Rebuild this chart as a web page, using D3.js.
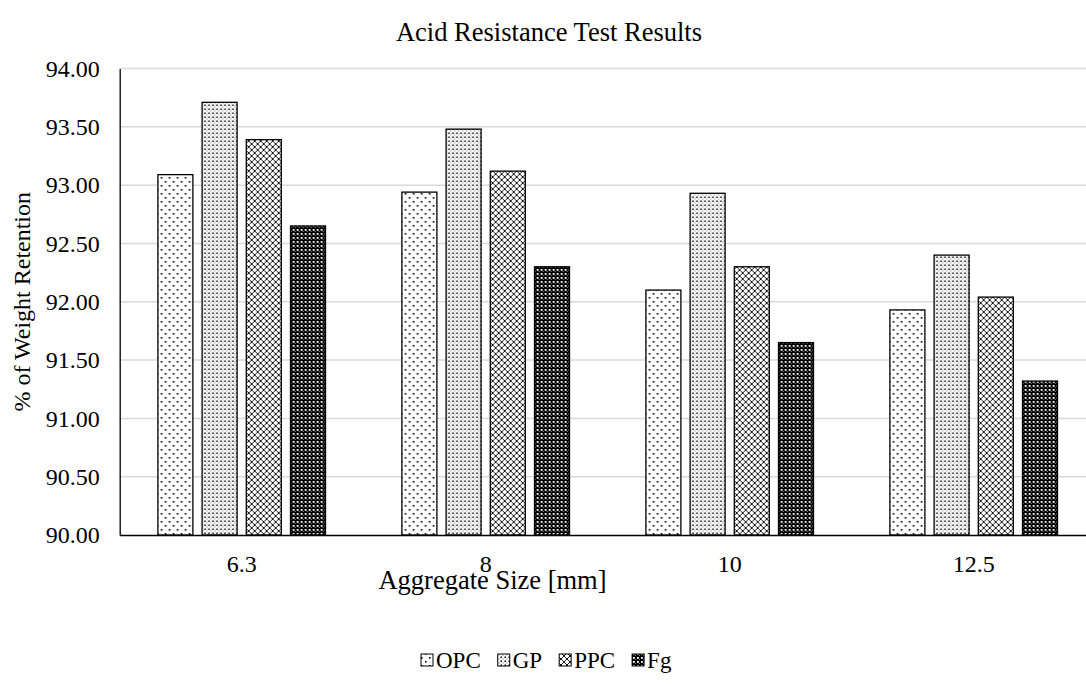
<!DOCTYPE html>
<html>
<head>
<meta charset="utf-8">
<script src="https://cdn.jsdelivr.net/npm/d3@7"></script>
<style>
  html, body { margin: 0; padding: 0; background: #fff; }
  svg, svg text { font-family: "Liberation Serif", "Times New Roman", serif !important; }
  svg { display: block; }
</style>
</head>
<body>
<svg id="chart" width="1086" height="684"></svg>
<script>
// Aggregate sizes (mm) on the x axis
const categories = ["6.3", "8", "10", "12.5"];
// Binder types
const seriesNames = ["OPC", "GP", "PPC", "Fg"];
// % of weight retained after acid exposure, per binder
const opcValues = [93.09, 92.94, 92.10, 91.93];
const gpValues  = [93.71, 93.48, 92.93, 92.40];
const ppcValues = [93.39, 93.12, 92.30, 92.04];
const fgValues  = [92.65, 92.30, 91.65, 91.32];
// y axis ticks
const yTicks = [90.00, 90.50, 91.00, 91.50, 92.00, 92.50, 93.00, 93.50, 94.00];

const valuesBySeries = [opcValues, gpValues, ppcValues, fgValues];
const rows = categories.map((c, i) => ({
  cat: c,
  vals: seriesNames.map((s, j) => ({ series: s, value: valuesBySeries[j][i] }))
}));

const svg = d3.select("#chart");
const defs = svg.append("defs");

// Fill patterns, one per binder
function pat(id, w, h, build) {
  const p = defs.append("pattern").attr("id", id)
    .attr("patternUnits", "userSpaceOnUse").attr("width", w).attr("height", h);
  build(p);
}
// sparse staggered dots
pat("p-OPC", 8, 8, p => {
  p.append("rect").attr("width", 8).attr("height", 8).attr("fill", "#fff");
  p.append("rect").attr("x", 1).attr("y", 1).attr("width", 1.6).attr("height", 1.6).attr("fill", "#000");
  p.append("rect").attr("x", 5).attr("y", 5).attr("width", 1.6).attr("height", 1.6).attr("fill", "#000");
});
// dense dots
pat("p-GP", 4, 4, p => {
  p.append("rect").attr("width", 4).attr("height", 4).attr("fill", "#fff");
  p.append("rect").attr("x", 0.5).attr("y", 0.5).attr("width", 1.5).attr("height", 1.5).attr("fill", "#000");
  p.append("rect").attr("x", 2.5).attr("y", 2.5).attr("width", 1).attr("height", 1).attr("fill", "#666");
});
// diagonal cross lattice
pat("p-PPC", 6, 6, p => {
  p.append("rect").attr("width", 6).attr("height", 6).attr("fill", "#fff");
  p.append("path").attr("d", "M0,0L6,6M6,0L0,6").attr("stroke", "#000").attr("stroke-width", 0.9);
  p.append("rect").attr("x", 2.5).attr("y", 2.5).attr("width", 1).attr("height", 1).attr("fill", "#000");
});
// dark with light dots
pat("p-Fg", 4, 4, p => {
  p.append("rect").attr("width", 4).attr("height", 4).attr("fill", "#000");
  p.append("rect").attr("x", 1).attr("y", 1).attr("width", 1.8).attr("height", 1.8).attr("fill", "#fff");
  p.append("rect").attr("x", 3).attr("y", 3).attr("width", 1).attr("height", 1).attr("fill", "#888");
});

const plot = { left: 119.7, right: 1095.7, top: 68.5, bottom: 535 };

const x0 = d3.scaleBand().domain(categories).range([plot.left, plot.right]);
const x1 = d3.scaleBand().domain(seriesNames).range([0, x0.bandwidth()])
  .paddingInner(0.208).paddingOuter(0.864);
const y = d3.scaleLinear().domain([90, 94]).range([plot.bottom, plot.top]);

// gridlines
svg.append("g").selectAll("line").data(yTicks.filter(t => t > 90)).join("line")
  .attr("x1", plot.left).attr("x2", plot.right)
  .attr("y1", d => y(d)).attr("y2", d => y(d))
  .attr("stroke", "#d9d9d9").attr("stroke-width", 1.5);

// bars
const groups = svg.append("g").selectAll("g").data(rows).join("g")
  .attr("transform", d => `translate(${x0(d.cat)},0)`);
groups.selectAll("rect").data(d => d.vals).join("rect")
  .attr("x", d => x1(d.series))
  .attr("y", d => y(d.value))
  .attr("width", x1.bandwidth())
  .attr("height", d => y(90) - y(d.value))
  .attr("fill", d => `url(#p-${d.series})`)
  .attr("stroke", "#000").attr("stroke-width", 1.3);

// y axis
const yAxis = svg.append("g").attr("transform", `translate(${plot.left},0)`)
  .call(d3.axisLeft(y).tickValues(yTicks).tickFormat(d3.format(".2f")).tickSize(0).tickPadding(20));
yAxis.attr("font-family", null).attr("font-size", 24);
yAxis.select(".domain").attr("stroke", "#000").attr("stroke-width", 1.3);
yAxis.selectAll("text").attr("fill", "#000");

// x axis
const xAxis = svg.append("g").attr("transform", `translate(0,${plot.bottom})`)
  .call(d3.axisBottom(x0).tickSize(0).tickPadding(20));
xAxis.attr("font-family", null).attr("font-size", 24);
xAxis.select(".domain").attr("stroke", "#000").attr("stroke-width", 1.3);
xAxis.selectAll("text").attr("fill", "#000");

// titles
svg.append("text").attr("x", 549).attr("y", 41).attr("text-anchor", "middle")
  .attr("font-size", 26.5).text("Acid Resistance Test Results");
svg.append("text").attr("x", 492.5).attr("y", 589).attr("text-anchor", "middle")
  .attr("font-size", 26.5).text("Aggregate Size [mm]");
svg.append("text").attr("transform", `translate(30,${(plot.top + plot.bottom) / 2}) rotate(-90)`)
  .attr("text-anchor", "middle").attr("font-size", 24).text("% of Weight Retention");

// legend
const legend = svg.append("g").attr("transform", "translate(0,668)");
let lx = 421;
seriesNames.forEach(s => {
  legend.append("rect").attr("x", lx).attr("y", -14).attr("width", 12).attr("height", 12)
    .attr("fill", `url(#p-${s})`).attr("stroke", "#000").attr("stroke-width", 1);
  const t = legend.append("text").attr("x", lx + 15).attr("y", 0).attr("font-size", 23).text(s);
  lx += 15 + t.node().getComputedTextLength() + 17;
});
</script>
</body>
</html>
